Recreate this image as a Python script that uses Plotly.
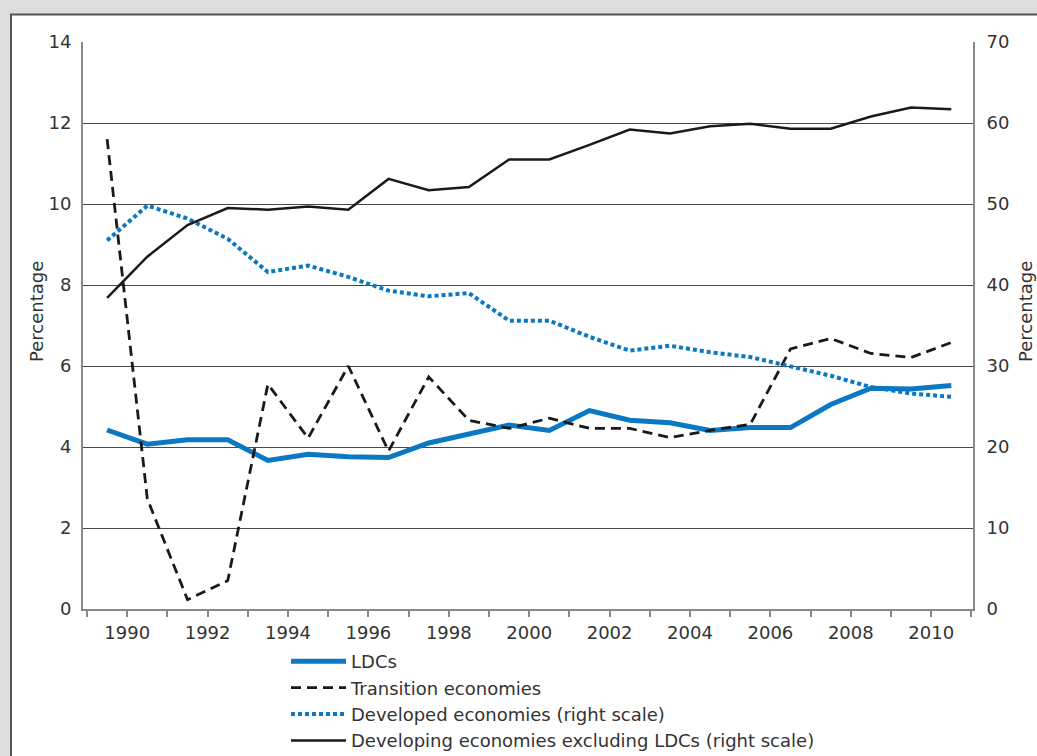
import plotly.graph_objects as go

# Mid-year positions of the observations (between the year ticks)
x_pos = [1989.5, 1990.5, 1991.5, 1992.5, 1993.5, 1994.5, 1995.5, 1996.5, 1997.5, 1998.5, 1999.5,
         2000.5, 2001.5, 2002.5, 2003.5, 2004.5, 2005.5, 2006.5, 2007.5, 2008.5, 2009.5, 2010.5]

ldcs = [4.42, 4.07, 4.18, 4.18, 3.67, 3.82, 3.76, 3.74, 4.10, 4.31, 4.54,
        4.41, 4.90, 4.66, 4.60, 4.41, 4.48, 4.48, 5.05, 5.45, 5.43, 5.52]

transition = [11.6, 2.72, 0.23, 0.70, 5.55, 4.22, 6.00, 3.90, 5.73, 4.66, 4.46,
              4.71, 4.46, 4.46, 4.23, 4.41, 4.56, 6.42, 6.68, 6.31, 6.21, 6.58]

developed = [45.5, 49.8, 48.2, 45.7, 41.6, 42.4, 41.0, 39.3, 38.6, 39.0, 35.6,
             35.6, 33.6, 31.9, 32.5, 31.7, 31.1, 29.9, 28.8, 27.4, 26.6, 26.2]

developing = [38.4, 43.5, 47.4, 49.5, 49.3, 49.7, 49.3, 53.1, 51.7, 52.1, 55.5,
              55.5, 57.3, 59.2, 58.7, 59.6, 59.9, 59.3, 59.3, 60.8, 61.9, 61.7]

x_tick_vals = [1990, 1992, 1994, 1996, 1998, 2000, 2002, 2004, 2006, 2008, 2010]
left_ticks = [0, 2, 4, 6, 8, 10, 12, 14]
right_ticks = [0, 10, 20, 30, 40, 50, 60, 70]

BLUE = "#0a78c2"
FONT = "DejaVu Sans"
TXT = "#333333"
BG = "#dcdddf"

fig = go.Figure()
fig.add_trace(go.Scatter(x=x_pos, y=ldcs, mode="lines", name="LDCs",
                         line=dict(color=BLUE, width=5)))
fig.add_trace(go.Scatter(x=x_pos, y=transition, mode="lines", name="Transition economies",
                         line=dict(color="#1a1a1a", width=2.8, dash="10px,6px")))
fig.add_trace(go.Scatter(x=x_pos, y=developed, mode="lines", name="Developed economies (right scale)",
                         yaxis="y2", line=dict(color=BLUE, width=4, dash="4px,3px")))
fig.add_trace(go.Scatter(x=x_pos, y=developing, mode="lines",
                         name="Developing economies excluding LDCs (right scale)",
                         yaxis="y2", line=dict(color="#1a1a1a", width=2.5)))

W, H = 1037, 756
L, R, T, B = 83, 64, 42, 147
pw = W - L - R
ph = H - T - B


def px_x(p):
    return (p - L) / pw


def px_y(p):
    return (H - B - p) / ph


fig.add_shape(type="rect", xref="paper", yref="paper", layer="below",
              x0=px_x(11), x1=px_x(1060), y0=px_y(780), y1=px_y(14.5),
              fillcolor="white", line=dict(color="#555555", width=2))

fig.add_annotation(text="Percentage", xref="paper", yref="paper", x=px_x(36), y=px_y(312),
                   xanchor="center", yanchor="middle",
                   textangle=-90, showarrow=False, font=dict(family=FONT, size=18, color=TXT))
fig.add_annotation(text="Percentage", xref="paper", yref="paper", x=px_x(1025), y=px_y(312),
                   xanchor="center", yanchor="middle",
                   textangle=-90, showarrow=False, font=dict(family=FONT, size=18, color=TXT))

fig.update_layout(
    width=W, height=H,
    margin=dict(l=L, r=R, t=T, b=B, autoexpand=False),
    paper_bgcolor=BG,
    plot_bgcolor="white",
    font=dict(family=FONT, size=18, color=TXT),
    showlegend=True,
    legend=dict(x=px_x(286), y=px_y(643), xanchor="left", yanchor="top",
                bgcolor="rgba(0,0,0,0)", font=dict(size=18, color=TXT),
                itemwidth=55, tracegroupgap=0, traceorder="normal"),
    xaxis=dict(range=[1988.9, 2011.04], tickvals=x_tick_vals, ticks="outside", ticklen=6,
               tickwidth=1.5, tickcolor="#888888", showline=True, linecolor="#888888", linewidth=2,
               showgrid=False, zeroline=False,
               minor=dict(dtick=1, tick0=1989, ticks="outside", ticklen=6, tickwidth=1.5,
                          tickcolor="#888888", showgrid=False)),
    yaxis=dict(range=[0, 14], tickvals=left_ticks, showgrid=True, gridcolor="#4a4a4a", gridwidth=1,
               showline=True, linecolor="#888888", linewidth=2, zeroline=False, ticks="",
               ticklabelstandoff=6),
    yaxis2=dict(range=[0, 70], tickvals=right_ticks, overlaying="y", side="right", showgrid=False,
                showline=True, linecolor="#888888", linewidth=2, zeroline=False, ticks="",
                ticklabelstandoff=8),
)

fig.write_html(
    "out.html",
    config={"displayModeBar": False},
    post_script="document.body.style.margin='0';document.body.style.background='" + BG + "';"
                "document.documentElement.style.overflow='hidden';",
)
